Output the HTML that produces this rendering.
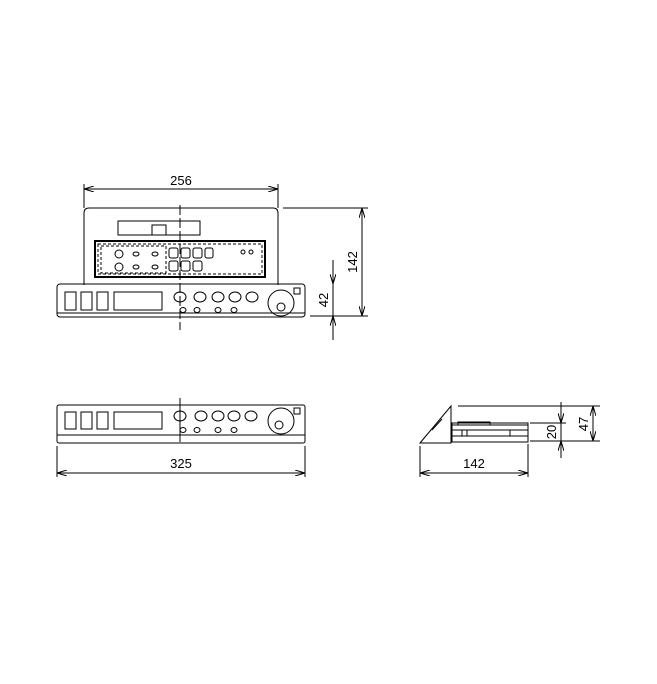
<!DOCTYPE html>
<html><head><style>body{margin:0;background:#fff}svg{display:block}text{font-family:"Liberation Sans",sans-serif;font-size:13px;fill:#000}</style></head>
<body>
<svg width="657" height="684" viewBox="0 0 657 684" xmlns="http://www.w3.org/2000/svg" fill="none" stroke="#000" stroke-width="1">
<defs><marker id="a" viewBox="0 0 10 6" refX="10" refY="3" markerWidth="10" markerHeight="6" orient="auto-start-reverse" markerUnits="userSpaceOnUse"><path d="M0,0 L10,3 L0,6" fill="none" stroke="#000"/></marker></defs>
<!-- top view -->
<path d="M84,285 V213 Q84,208 89,208 H273 Q278,208 278,213 V285"/>
<rect x="118" y="221" width="82" height="14"/>
<rect x="152" y="225" width="14" height="10"/>
<rect x="95" y="241" width="170" height="36" stroke-width="2"/>
<rect x="98" y="244" width="164" height="30" stroke-dasharray="3,2"/>
<rect x="101" y="246" width="65" height="27" stroke-dasharray="3,2"/>
<circle cx="119" cy="254" r="4"/><circle cx="119" cy="267" r="4"/>
<ellipse cx="136" cy="254" rx="3" ry="2"/><ellipse cx="136" cy="267" rx="3" ry="2"/>
<ellipse cx="155" cy="254" rx="3" ry="2"/><ellipse cx="155" cy="267" rx="3" ry="2"/>
<rect x="169" y="248" width="9" height="10" rx="2"/><rect x="181" y="248" width="9" height="10" rx="2"/><rect x="193" y="248" width="9" height="10" rx="2"/><rect x="205" y="248" width="8" height="10" rx="2"/>
<rect x="169" y="261" width="9" height="10" rx="2"/><rect x="181" y="261" width="9" height="10" rx="2"/><rect x="193" y="261" width="9" height="10" rx="2"/>
<circle cx="243" cy="252" r="2"/><circle cx="251" cy="252" r="2"/>
<rect x="57" y="284" width="248" height="33" rx="3"/>
<line x1="57" y1="313" x2="305" y2="313"/>
<rect x="65" y="292" width="11" height="18"/><rect x="81" y="292" width="11" height="18"/><rect x="97" y="292" width="11" height="18"/><rect x="114" y="292" width="48" height="18"/>
<ellipse cx="180" cy="297" rx="6" ry="5"/><ellipse cx="200" cy="297" rx="6" ry="5"/><ellipse cx="218" cy="297" rx="6" ry="5"/><ellipse cx="235" cy="297" rx="6" ry="5"/><ellipse cx="252" cy="297" rx="6" ry="5"/>
<ellipse cx="183" cy="310" rx="3" ry="2.5"/><ellipse cx="197" cy="310" rx="3" ry="2.5"/><ellipse cx="218" cy="310" rx="3" ry="2.5"/><ellipse cx="234" cy="310" rx="3" ry="2.5"/>
<circle cx="281" cy="303" r="13"/><circle cx="281" cy="307" r="4"/><rect x="294" y="288" width="6" height="6"/>
<line x1="180" y1="205" x2="180" y2="330" stroke-dasharray="10,3"/>
<line x1="84" y1="184" x2="84" y2="208"/><line x1="278" y1="184" x2="278" y2="208"/>
<line x1="84" y1="189" x2="278" y2="189" marker-start="url(#a)" marker-end="url(#a)"/>
<line x1="283" y1="208" x2="368" y2="208"/><line x1="310" y1="316" x2="368" y2="316"/>
<line x1="362" y1="208" x2="362" y2="316" marker-start="url(#a)" marker-end="url(#a)"/>
<line x1="333" y1="260" x2="333" y2="284" marker-end="url(#a)"/><line x1="333" y1="340" x2="333" y2="316" marker-end="url(#a)"/>
<line x1="333" y1="284" x2="333" y2="316"/>
<!-- front view -->
<rect x="57" y="405" width="248" height="38" rx="2"/>
<line x1="57" y1="435" x2="305" y2="435"/>
<rect x="65" y="412" width="11" height="17"/><rect x="81" y="412" width="11" height="17"/><rect x="97" y="412" width="11" height="17"/><rect x="114" y="412" width="48" height="17"/>
<ellipse cx="180" cy="416" rx="6" ry="5"/><ellipse cx="201" cy="416" rx="6" ry="5"/><ellipse cx="218" cy="416" rx="6" ry="5"/><ellipse cx="234" cy="416" rx="6" ry="5"/><ellipse cx="251" cy="416" rx="6" ry="5"/>
<ellipse cx="183" cy="430" rx="3" ry="2.5"/><ellipse cx="197" cy="430" rx="3" ry="2.5"/><ellipse cx="218" cy="430" rx="3" ry="2.5"/><ellipse cx="234" cy="430" rx="3" ry="2.5"/>
<circle cx="281" cy="421" r="13"/><circle cx="279" cy="425" r="4"/><rect x="294" y="408" width="6" height="6"/>
<line x1="180" y1="398" x2="180" y2="442"/>
<line x1="57" y1="446" x2="57" y2="477"/><line x1="305" y1="446" x2="305" y2="477"/>
<line x1="57" y1="473" x2="305" y2="473" marker-start="url(#a)" marker-end="url(#a)"/>
<!-- side view -->
<path d="M420,443 L451,406 V443 Z"/>
<line x1="432" y1="430" x2="442" y2="419"/>
<rect x="452" y="423" width="76" height="19"/>
<line x1="452" y1="425" x2="528" y2="425"/><line x1="452" y1="430" x2="528" y2="430"/><line x1="452" y1="436" x2="528" y2="436"/>
<rect x="458" y="422" width="32" height="3"/>
<line x1="462" y1="430" x2="462" y2="436"/><line x1="467" y1="430" x2="467" y2="436"/><line x1="510" y1="430" x2="510" y2="436"/>
<line x1="458" y1="406" x2="600" y2="406"/>
<line x1="530" y1="423" x2="566" y2="423"/><line x1="530" y1="441" x2="600" y2="441"/>
<line x1="561" y1="402" x2="561" y2="423" marker-end="url(#a)"/><line x1="561" y1="458" x2="561" y2="441" marker-end="url(#a)"/>
<line x1="561" y1="423" x2="561" y2="441"/>
<line x1="593" y1="406" x2="593" y2="441" marker-start="url(#a)" marker-end="url(#a)"/>
<line x1="420" y1="446" x2="420" y2="477"/><line x1="528" y1="444" x2="528" y2="477"/>
<line x1="420" y1="473" x2="528" y2="473" marker-start="url(#a)" marker-end="url(#a)"/>
<g stroke="none">
<text x="181" y="185" text-anchor="middle">256</text>
<text x="181" y="468" text-anchor="middle">325</text>
<text x="474" y="468" text-anchor="middle">142</text>
<text transform="translate(357,262) rotate(-90)" text-anchor="middle">142</text>
<text transform="translate(328,300) rotate(-90)" text-anchor="middle">42</text>
<text transform="translate(556,432) rotate(-90)" text-anchor="middle">20</text>
<text transform="translate(588,424) rotate(-90)" text-anchor="middle">47</text>
</g>
</svg>
</body></html>
